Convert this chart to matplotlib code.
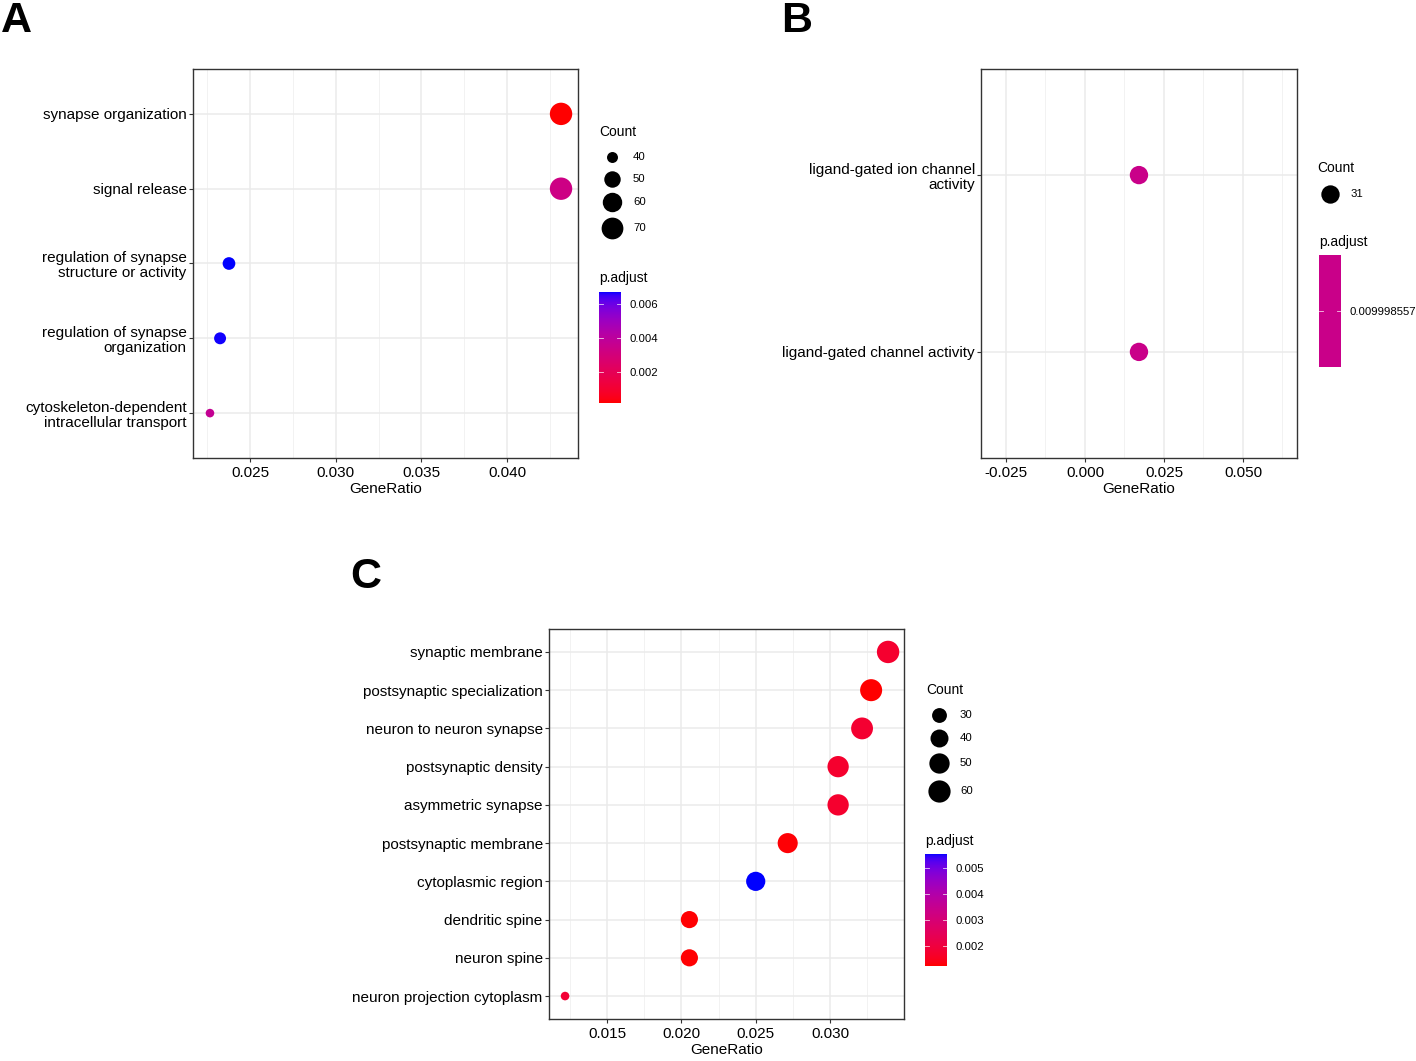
import numpy as np
import matplotlib
matplotlib.use('Agg')
import matplotlib.pyplot as plt
from matplotlib.colors import ListedColormap, Normalize
from matplotlib.cm import ScalarMappable

plt.rcParams['font.family'] = ['Liberation Sans', 'DejaVu Sans']

# ---------------- data ----------------
# panel A
a_terms = ['synapse organization', 'signal release',
           'regulation of synapse\nstructure or activity',
           'regulation of synapse\norganization',
           'cytoskeleton-dependent\nintracellular transport']
a_ratio = [0.04315, 0.04315, 0.02377, 0.02325, 0.02266]
a_count = [73, 73, 42, 41, 39]
a_padj = [0.00018, 0.0033, 0.0067, 0.00666, 0.0037]
a_xticks = [0.025, 0.030, 0.035, 0.040]
a_size_breaks = [40, 50, 60, 70]
a_col_breaks = [0.002, 0.004, 0.006]

# panel B
b_terms = ['ligand-gated ion channel\nactivity', 'ligand-gated channel activity']
b_ratio = [0.01709, 0.01709]
b_count = [31, 31]
b_padj = [0.009998557, 0.009998557]
b_xticks = [-0.025, 0.0, 0.025, 0.050]
b_size_breaks = [31]

# panel C
c_terms = ['synaptic membrane', 'postsynaptic specialization',
           'neuron to neuron synapse', 'postsynaptic density',
           'asymmetric synapse', 'postsynaptic membrane',
           'cytoplasmic region', 'dendritic spine', 'neuron spine',
           'neuron projection cytoplasm']
c_ratio = [0.0339, 0.03276, 0.03215, 0.03054, 0.03054, 0.02715,
           0.0250, 0.02054, 0.02054, 0.01218]
c_count = [61, 59, 58, 55, 55, 49, 45, 37, 37, 22]
c_padj = [0.00175, 0.00123, 0.00178, 0.00172, 0.00172, 0.00128,
          0.00554, 0.00126, 0.00126, 0.00185]
c_xticks = [0.015, 0.020, 0.025, 0.030]
c_size_breaks = [30, 40, 50, 60]
c_col_breaks = [0.002, 0.003, 0.004, 0.005]

W, H = 1416, 1061

# ---------------- red -> blue gradient in Lab (like ggplot) ----------------
M = np.array([[0.4124, 0.3576, 0.1805],
              [0.2126, 0.7152, 0.0722],
              [0.0193, 0.1192, 0.9505]])
WHITE = np.array([0.95047, 1.0, 1.08883])


def to_lab(rgb):
    c = np.array(rgb, float)
    c = np.where(c <= 0.04045, c / 12.92, ((c + 0.055) / 1.055) ** 2.4)
    xyz = M @ c / WHITE
    f = np.where(xyz > 0.008856, np.cbrt(xyz), 7.787 * xyz + 16 / 116)
    return np.array([116 * f[1] - 16, 500 * (f[0] - f[1]), 200 * (f[1] - f[2])])


def to_rgb(lab):
    L, a, b = lab
    fy = (L + 16) / 116
    f = np.array([fy + a / 500, fy, fy - b / 200])
    xyz = np.where(f ** 3 > 0.008856, f ** 3, (f - 16 / 116) / 7.787) * WHITE
    c = np.clip(np.linalg.solve(M, xyz), 0, 1)
    c = np.where(c <= 0.0031308, 12.92 * c, 1.055 * c ** (1 / 2.4) - 0.055)
    return np.clip(c, 0, 1)


lab_lo, lab_hi = to_lab([1, 0, 0]), to_lab([0, 0, 1])
cmap = ListedColormap([to_rgb(lab_lo + t * (lab_hi - lab_lo))
                       for t in np.linspace(0, 1, 256)])


def diam(c, lo, hi):
    t = 0.5 if hi == lo else (c - lo) / (hi - lo)
    t = min(max(t, 0), 1)
    return 8.6 + (22.4 - 8.6) * np.sqrt(t)


def s_of(d):
    return (d * 0.72) ** 2


def px_axes(l, t, r, b):
    return fig.add_axes([l / W, 1 - b / H, (r - l) / W, (b - t) / H])


fig = plt.figure(figsize=(W / 100, H / 100), dpi=100)
lay = fig.add_axes([0, 0, 1, 1])
lay.set_xlim(0, W)
lay.set_ylim(H, 0)
lay.axis('off')


def dotpanel(box, terms, ratio, count, padj, xticks, xfmt, xlim):
    ax = px_axes(*box)
    n = len(terms)
    ys = np.arange(n, 0, -1)
    lo, hi = min(count), max(count)
    sizes = [s_of(diam(c, lo, hi)) for c in count]
    if max(padj) == min(padj):
        cols = [cmap(0.5)] * n
    else:
        norm = Normalize(min(padj), max(padj))
        cols = [cmap(norm(p)) for p in padj]
    ax.scatter(ratio, ys, s=sizes, c=cols, linewidths=0, zorder=3)
    ax.set_ylim(0.4, n + 0.6)
    ax.set_xlim(*xlim)
    ax.set_yticks(ys)
    ax.set_yticklabels(terms, fontsize=11, linespacing=1.12)
    ax.set_xticks(xticks)
    ax.set_xticklabels([xfmt % v for v in xticks], fontsize=11)
    step = xticks[1] - xticks[0]
    minors = np.arange(xticks[0] - 2.5 * step, xticks[-1] + 2.6 * step, step)
    ax.set_xticks([m for m in minors if xlim[0] < m < xlim[1]], minor=True)
    ax.grid(which='major', color='#EBEBEB', lw=1.1, zorder=0)
    ax.grid(which='minor', axis='x', color='#F2F2F2', lw=0.7, zorder=0)
    ax.tick_params(which='major', length=3, width=0.8, color='#333333', labelcolor='black')
    ax.tick_params(axis='y', pad=1.5)
    ax.tick_params(axis='x', pad=2.5)
    ax.tick_params(which='minor', length=0)
    for sp in ax.spines.values():
        sp.set_color('#333333')
        sp.set_linewidth(1.0)
    ax.set_xlabel('GeneRatio', fontsize=11, labelpad=2)
    ax.set_axisbelow(True)
    return ax, lo, hi


def size_legend(x, ytitle, ys, breaks, lo, hi):
    lay.text(x - 13, ytitle, 'Count', fontsize=10, va='center', ha='left')
    for y, b in zip(ys, breaks):
        lay.scatter([x], [y], s=s_of(diam(b, lo, hi)), c='black', linewidths=0)
        lay.text(x + 21, y, str(b), fontsize=8.2, va='center', ha='left')


def col_legend(box, ytitle, vmin, vmax, ticks, labels, single=None):
    lay.text(box[0], ytitle, 'p.adjust', fontsize=10, va='center', ha='left')
    cax = px_axes(*box)
    if single is None:
        sm = ScalarMappable(norm=Normalize(vmin, vmax), cmap=cmap)
    else:
        sm = ScalarMappable(norm=Normalize(vmin, vmax), cmap=ListedColormap([single]))
    cb = fig.colorbar(sm, cax=cax)
    cb.outline.set_visible(False)
    cb.set_ticks(ticks)
    cb.set_ticklabels(labels)
    cax.tick_params(length=0, labelsize=8.2, pad=6)
    for t in ticks:
        cax.plot([0, 0.2], [t, t], color='white', lw=0.6, alpha=0.8)
        cax.plot([0.8, 1], [t, t], color='white', lw=0.6, alpha=0.8)


# ---------------- panel A ----------------
axA, loA, hiA = dotpanel((193, 69, 578, 458), a_terms, a_ratio, a_count, a_padj,
                         a_xticks, '%.3f', (0.02167, 0.04414))
size_legend(612, 132, [157, 179, 202, 228], a_size_breaks, loA, hiA)
col_legend((599, 292, 621, 403), 278, min(a_padj), max(a_padj), a_col_breaks,
           ['%.3f' % v for v in a_col_breaks])

# ---------------- panel B ----------------
axB, loB, hiB = dotpanel((981, 69, 1297, 458), b_terms, b_ratio, b_count, b_padj,
                         b_xticks, '%.3f', (-0.0329, 0.0671))
size_legend(1330, 168, [194], b_size_breaks, loB, hiB)
v = b_padj[0]
col_legend((1319, 255, 1341, 367), 242, v * 0.999, v * 1.001, [v], ['0.009998557'],
           single=cmap(0.5))

# ---------------- panel C ----------------
axC, loC, hiC = dotpanel((549, 629, 904, 1019), c_terms, c_ratio, c_count, c_padj,
                         c_xticks, '%.3f', (0.0111, 0.03497))
size_legend(939, 690, [715, 738, 763, 791], c_size_breaks, loC, hiC)
col_legend((925, 854, 947, 966), 841, min(c_padj), max(c_padj), c_col_breaks,
           ['%.3f' % v for v in c_col_breaks])

# panel letters
for x, y, s in [(1, 21, 'A'), (781, 21, 'B'), (350, 577, 'C')]:
    lay.text(x, y, s, fontsize=31, fontweight='bold', va='center', ha='left')

fig.savefig('out.png', dpi=100)
